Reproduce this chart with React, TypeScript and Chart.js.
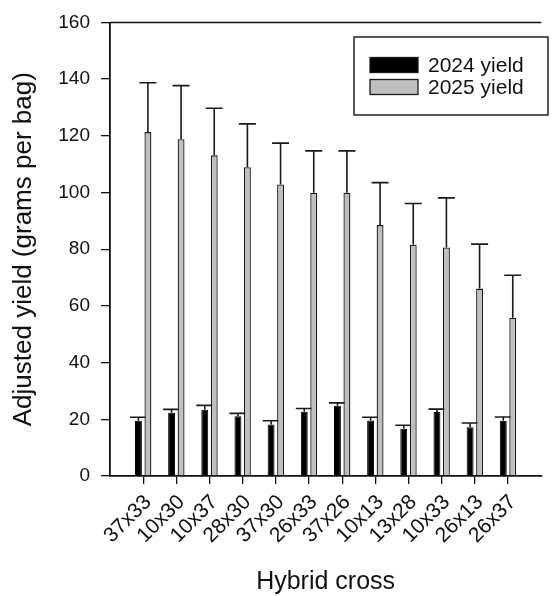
import React, { useEffect, useRef } from 'react';
import { Chart, registerables } from 'chart.js';

Chart.register(...registerables);

const categories = ['37x33', '10x30', '10x37', '28x30', '37x30', '26x33', '37x26', '10x13', '13x28', '10x33', '26x13', '26x37'];
const yield2024 = [19.5, 22.3, 23.4, 21.1, 18.2, 22.7, 24.8, 19.6, 16.7, 22.6, 17.2, 19.5];
const err2024 = [1.2, 1.2, 1.5, 1.0, 1.3, 1.1, 1.0, 1.1, 1.2, 1.0, 1.5, 1.3];
const yield2025 = [121.3, 118.8, 113.1, 108.9, 102.8, 99.9, 99.9, 88.5, 81.6, 80.6, 66.1, 55.8];
const err2025 = [17.4, 18.9, 16.6, 15.3, 14.6, 14.8, 14.8, 15.0, 14.5, 17.5, 15.7, 15.0];
const seriesLabels = ['2024 yield', '2025 yield'];
const yMin = 0;
const yMax = 160;
const yStep = 20;
const xTitle = 'Hybrid cross';
const yTitle = 'Adjusted yield (grams per bag)';

const FONT = "'Liberation Sans', Arial, Helvetica, sans-serif";
const INK = '#111111';
const GRAY = '#bfbfbf';

export default function App() {
  const ref = useRef<HTMLCanvasElement | null>(null);

  useEffect(() => {
    if (!ref.current) return;
    const labels = ['', ...categories, ''];
    const pad = (a: number[]) => [null, ...a, null];
    const errs = [pad(err2024), pad(err2025)];

    const errorBars = {
      id: 'errorBars',
      beforeDatasetsDraw(chart: any) {
        const ctx = chart.ctx;
        const y = chart.scales.y;
        ctx.save();
        ctx.strokeStyle = '#1a1a1a';
        ctx.lineWidth = 1.6;
        chart.data.datasets.forEach((ds: any, di: number) => {
          const meta = chart.getDatasetMeta(di);
          meta.data.forEach((bar: any, i: number) => {
            const v = ds.data[i];
            const e = errs[di][i];
            if (v == null || e == null) return;
            const x = bar.x;
            const yb = y.getPixelForValue(v);
            const yt = y.getPixelForValue(v + e);
            ctx.beginPath();
            ctx.moveTo(x, yb);
            ctx.lineTo(x, yt);
            ctx.moveTo(x - 8.5, yt);
            ctx.lineTo(x + 8.5, yt);
            ctx.stroke();
          });
        });
        ctx.restore();
      },
      afterDraw(chart: any) {
        const ctx = chart.ctx;
        const a = chart.chartArea;
        ctx.save();
        // top frame line
        ctx.strokeStyle = INK;
        ctx.lineWidth = 1.5;
        ctx.beginPath();
        ctx.moveTo(a.left, a.top);
        ctx.lineTo(a.right, a.top);
        ctx.stroke();
        // legend box
        const bx = 354, by = 37, bw = 194, bh = 78;
        ctx.fillStyle = '#ffffff';
        ctx.fillRect(bx, by, bw, bh);
        ctx.lineWidth = 1.5;
        ctx.strokeStyle = '#222222';
        ctx.strokeRect(bx, by, bw, bh);
        const fills = ['#000000', GRAY];
        const rows = [65, 87];
        ctx.font = `21px ${FONT}`;
        ctx.textBaseline = 'middle';
        ctx.textAlign = 'left';
        rows.forEach((cy, i) => {
          ctx.fillStyle = fills[i];
          ctx.fillRect(370, cy - 7.5, 48, 15);
          ctx.lineWidth = 1.3;
          ctx.strokeStyle = '#1a1a1a';
          ctx.strokeRect(370, cy - 7.5, 48, 15);
          ctx.fillStyle = INK;
          ctx.fillText(seriesLabels[i], 428, cy + 1);
        });
        ctx.restore();
      },
    };

    const chart = new Chart(ref.current, {
      type: 'bar',
      data: {
        labels,
        datasets: [
          {
            label: seriesLabels[0],
            data: pad(yield2024),
            backgroundColor: '#000000',
            borderColor: '#000000',
            borderWidth: 1,
            categoryPercentage: 0.571,
            barPercentage: 0.73,
          },
          {
            label: seriesLabels[1],
            data: pad(yield2025),
            backgroundColor: GRAY,
            borderColor: '#1a1a1a',
            borderWidth: 1.3,
            categoryPercentage: 0.571,
            barPercentage: 0.73,
          },
        ],
      },
      options: {
        responsive: false,
        maintainAspectRatio: false,
        animation: false,
        devicePixelRatio: 1,
        layout: { padding: { top: 22, left: 0, right: 0, bottom: 0 } },
        plugins: { legend: { display: false }, tooltip: { enabled: false } },
        scales: {
          x: {
            type: 'category',
            offset: false,
            grid: {
              offset: false,
              drawOnChartArea: false,
              drawTicks: true,
              tickLength: 8,
              lineWidth: 1.3,
              color: INK,
              tickColor: (c: any) => (c.index === 0 || c.index === labels.length - 1 ? 'rgba(0,0,0,0)' : INK),
            },
            border: { display: true, color: INK, width: 1.8 },
            ticks: {
              autoSkip: false,
              minRotation: 45,
              maxRotation: 45,
              color: INK,
              padding: 6,
              labelOffset: 5,
              font: { family: FONT, size: 21 },
            },
            title: {
              display: true,
              text: xTitle,
              color: INK,
              font: { family: FONT, size: 25 },
              padding: { top: 0, bottom: -1 },
            },
            afterFit: (s: any) => {
              s.height = 120;
            },
          },
          y: {
            min: yMin,
            max: yMax,
            grid: {
              drawOnChartArea: false,
              drawTicks: true,
              tickLength: 9,
              lineWidth: 1.3,
              color: INK,
            },
            border: { display: true, color: INK, width: 1.8 },
            ticks: {
              stepSize: yStep,
              color: INK,
              padding: 11,
              font: { family: FONT, size: 19 },
            },
            title: {
              display: true,
              text: yTitle,
              color: INK,
              font: { family: FONT, size: 26 },
              padding: { top: 8, bottom: 0 },
            },
            afterFit: (s: any) => {
              s.width = 110;
            },
          },
        },
      },
      plugins: [errorBars],
    } as any);

    return () => chart.destroy();
  }, []);

  return (
    <div
      style={{
        position: 'absolute',
        left: 0,
        top: 0,
        width: 558,
        height: 596,
        overflow: 'hidden',
        background: '#ffffff',
      }}
    >
      <canvas ref={ref} width={565} height={596} style={{ display: 'block' }} />
    </div>
  );
}
